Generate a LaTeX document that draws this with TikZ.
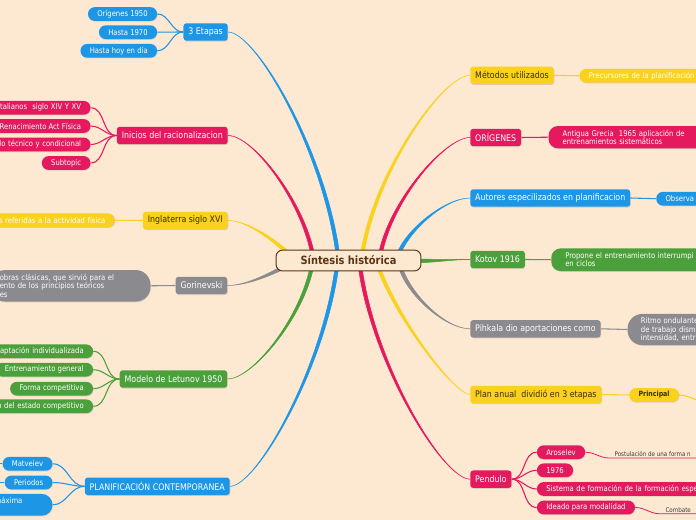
\documentclass[tikz,border=0pt]{standalone}
\usepackage{fontspec}
\setmainfont[FakeStretch=0.87]{DejaVu Sans}
\usetikzlibrary{calc,shadows,backgrounds}

\definecolor{paper}{HTML}{FDE8D1}
\definecolor{mmblue}{HTML}{1E96E6}
\definecolor{mmred}{HTML}{E5195E}
\definecolor{mmyellow}{HTML}{FAD21E}
\definecolor{mmgrey}{HTML}{8B8B8F}
\definecolor{mmgreen}{HTML}{4CA03C}
\definecolor{hubline}{HTML}{5B3513}
\definecolor{ink}{HTML}{3A2C08}
\definecolor{remarkink}{HTML}{3C3C3C}

% tapered main branch: colour, start, end, control out, control in, half width
\newcommand{\taper}[6]{%
  \filldraw[#1, line width=0.4pt] ($#2+#6$) .. controls +#4 and +#5 .. #3
    .. controls +#5 and +#4 .. ($#2-#6$) -- cycle;}

\tikzset{
  hub/.style={draw=hubline, line width=0.75pt, fill=paper, rounded corners=5pt,
    minimum width=108.7pt, minimum height=15.7pt, inner sep=0pt, text=hubline,
    font=\bfseries\fontsize{8.5}{10}\selectfont},
  topic/.style={rounded corners=2.2pt, minimum height=13.1pt, inner xsep=3.7pt,
    inner ysep=0pt, text=white, font=\fontsize{6.8}{8}\selectfont,
    drop shadow={shadow xshift=0.4pt, shadow yshift=-0.7pt, opacity=0.25}},
  leaf/.style={rounded corners=5pt, minimum height=10.3pt, inner xsep=7pt,
    inner ysep=0pt, text=white, font=\fontsize{5.9}{7}\selectfont,
    drop shadow={shadow xshift=0.4pt, shadow yshift=-0.6pt, opacity=0.25}},
  card/.style={leaf, align=left, rounded corners=7pt,
    font=\fontsize{5.9}{6.3}\selectfont},
  twig/.style={line width=0.8pt},
  remark/.style={text=remarkink, inner xsep=4pt, inner ysep=1pt,
    font=\fontsize{4.8}{6}\selectfont},
}

\begin{document}
\begin{tikzpicture}[x=0.75pt,y=-0.75pt]
\useasboundingbox (0,0) rectangle (696,520);
% central topic
\node[hub] (syn) at (348.5,260.5) {Síntesis histórica};

% Left main topics
\node[topic, fill=mmblue, anchor=east] (etapas) at (228,32) {3 Etapas};
\node[topic, fill=mmred, anchor=east] (inicios) at (228,135.5) {Inicios del racionalizacion};
\node[topic, fill=mmyellow, text=ink, anchor=east] (inglaterra) at (228,220.5) {Inglaterra siglo XVI};
\node[topic, fill=mmgrey, anchor=east] (gorin) at (227.5,285.5) {Gorinevski};
\node[topic, fill=mmgreen, anchor=east] (letunov) at (227.5,379) {Modelo de Letunov 1950};
\node[topic, fill=mmblue, anchor=east] (contemp) at (230,486.3) {PLANIFICACIÓN CONTEMPORANEA};

% Right main topics
\node[topic, fill=mmyellow, text=ink, anchor=west] (metodos) at (470,75.3) {Métodos utilizados};
\node[topic, fill=mmred, anchor=west] (origenes) at (470,137.5) {ORÍGENES};
\node[topic, fill=mmblue, anchor=west] (autores) at (470,198) {Autores especilizados en planificacion};
\node[topic, fill=mmgreen, anchor=west] (kotov) at (470,259.5) {Kotov 1916};
\node[topic, fill=mmgrey, anchor=west] (pihkala) at (470,328.8) {Pihkala dio aportaciones como};
\node[topic, fill=mmyellow, text=ink, anchor=west] (plan) at (470,394.5) {Plan anual~ dividió en 3 etapas};
\node[topic, fill=mmred, anchor=west] (pendulo) at (470,479.2) {Pendulo};

% Left subtopics
\node[leaf, fill=mmblue, anchor=east] (e1) at (157.3,14) {Orígenes 1950};
\node[leaf, fill=mmblue, anchor=east] (e2) at (157.3,32.2) {Hasta 1970};
\node[leaf, fill=mmblue, anchor=east] (e3) at (157.3,50.8) {Hasta hoy en día};
\node[leaf, fill=mmred, anchor=east, text width=100pt, align=right] (i1) at (90.7,107.8) {italianos~ siglo XIV Y XV};
\node[leaf, fill=mmred, anchor=east] (i2) at (90.7,126) {Renacimiento Act Física};
\node[leaf, fill=mmred, anchor=east, text width=100pt, align=right] (i3) at (90.7,144.5) {lo técnico y condicional};
\node[leaf, fill=mmred, anchor=east] (i4) at (90.7,163) {Subtopic};
\node[leaf, fill=mmyellow, anchor=east, text width=120pt, align=right] (g1) at (115,220.3) {s referidas a la actividad física};
\node[card, fill=mmgrey, anchor=east, text width=106pt, minimum height=23.6pt, rounded corners=11pt] (gnote) at (150.7,285.8)
  {obras clásicas, que sirvió para el\\ento de los principios teóricos\\es};
\node[leaf, fill=mmgreen, anchor=east, text width=100pt, align=right] (l1) at (93.3,351.3) {aptación individualizada};
\node[leaf, fill=mmgreen, anchor=east] (l2) at (93.3,369.7) {Entrenamiento general};
\node[leaf, fill=mmgreen, anchor=east] (l3) at (93.3,388.7) {Forma competitiva};
\node[leaf, fill=mmgreen, anchor=east, text width=100pt, align=right] (l4) at (93.3,406.3) {n del estado competitivo};
\node[leaf, fill=mmblue, anchor=east] (p1) at (52.7,463.8) {Matveiev};
\node[leaf, fill=mmblue, anchor=east] (p2) at (52.7,482.5) {Periodos};
\node[card, fill=mmblue, anchor=east, text width=36.3pt, minimum height=16.3pt, rounded corners=8pt] (p3) at (52.7,504.8) {máxima\\\mbox{}};

% Right subtopics
\node[leaf, fill=mmyellow, anchor=west, text width=120pt, align=left] (m1) at (579.3,75.8) {Precursores de la planificación};
\node[card, fill=mmred, anchor=west, inner xsep=10.5pt, text width=150pt, minimum height=16.7pt] (onote) at (548.3,137.2)
  {Antigua Grecia~ 1965 aplicación de\\entrenamientos sistemáticos};
\node[leaf, fill=mmblue, anchor=west, text width=40pt, align=left] (a1) at (656,198.7) {Observa};
\node[card, fill=mmgreen, anchor=west, inner xsep=10.5pt, text width=150pt, minimum height=17pt] (knote) at (551,259.7)
  {Propone el entrenamiento interrumpi\\en ciclos};
\node[card, fill=mmgrey, anchor=west, inner xsep=10pt, text width=60pt, minimum height=23.3pt, rounded corners=11pt] (hnote) at (627.3,329.5)
  {Ritmo ondulante\\de trabajo dism\\intensidad, entr};
\node[leaf, fill=mmyellow, text=ink, anchor=west, font=\bfseries\fontsize{5.4}{7}\selectfont] (pl1) at (629,395) {Principal};
\node[leaf, fill=mmred, anchor=west] (d1) at (536.7,452.2) {Aroselev};
\node[leaf, fill=mmred, anchor=west] (d2) at (536.7,470.3) {1976};
\node[leaf, fill=mmred, anchor=west, text width=150pt, align=left] (d3) at (536.7,489) {Sistema de formación de la formación espe};
\node[leaf, fill=mmred, anchor=west] (d4) at (536.7,507.5) {Ideado para modalidad};
\node[remark, anchor=south west] (d1t) at (609,458) {Postulación de una forma n};
\node[remark, anchor=south west] (d4t) at (660,513.8) {Combate};

% free ends beyond the page
\coordinate (p1x) at (-20,463.8);
\coordinate (p2x) at (-20,482.5);
\coordinate (plx) at (715,410);
\coordinate (d1v) at (705,458);
\coordinate (d4v) at (705,513.8);

\begin{scope}[on background layer]
\fill[paper] (0,0) rectangle (696,520);
% Main branches out of the central topic
\taper{mmblue}{(syn.center)+(-10.5,-4.5)}{(etapas.east)}{(-13,-104)}{(28,0)}{(1.8,0)}
\taper{mmred}{(syn.center)+(-35.5,-4.5)}{(inicios.east)}{(-10,-55)}{(25,0)}{(1.8,0)}
\taper{mmyellow}{(syn.center)+(-56.5,-3.5)}{(inglaterra.east)}{(-15,-15)}{(20,0)}{(1.3,-1.3)}
\taper{mmgrey}{(syn.center)+(-60.5,4.5)}{(gorin.east)}{(-15,8)}{(20,0)}{(0.6,1.7)}
\taper{mmgreen}{(syn.center)+(-36.5,5.5)}{(letunov.east)}{(-10,52)}{(25,0)}{(1.8,0)}
\taper{mmblue}{(syn.center)+(-11.5,5.5)}{(contemp.east)}{(-13,101)}{(27,0)}{(1.8,0)}
\taper{mmyellow}{(syn.center)+(13.5,-4.5)}{(metodos.west)}{(12,-83)}{(-27,0)}{(1.8,0)}
\taper{mmred}{(syn.center)+(31.5,-4.5)}{(origenes.west)}{(10,-55)}{(-25,0)}{(1.8,0)}
\taper{mmblue}{(syn.center)+(49.5,-4.5)}{(autores.west)}{(8,-25)}{(-25,0)}{(1.6,0.8)}
\taper{mmgreen}{(syn.center)+(66.5,0.5)}{(kotov.west)}{(18,0)}{(-18,0)}{(0,1.8)}
\taper{mmgrey}{(syn.center)+(51.5,5.5)}{(pihkala.west)}{(8,28)}{(-25,0)}{(1.6,-0.8)}
\taper{mmyellow}{(syn.center)+(29.5,5.5)}{(plan.west)}{(20,55)}{(-15,0)}{(1.8,0)}
\taper{mmred}{(syn.center)+(11.5,5.5)}{(pendulo.west)}{(13,98)}{(-27,0)}{(1.8,0)}
% Left twigs
\foreach \n in {e1,e2,e3}
  \draw[twig, mmblue] (etapas.west) to[out=180,in=0] (\n.east);
\foreach \n in {i1,i2,i3,i4}
  \draw[twig, mmred] (inicios.west) to[out=180,in=0] (\n.east);
\draw[twig, mmyellow] (inglaterra.west) -- (g1.east);
\draw[twig, mmgrey] (gorin.west) -- (gnote.east);
\foreach \n in {l1,l2,l3,l4}
  \draw[twig, mmgreen] (letunov.west) to[out=180,in=0] (\n.east);
\foreach \n in {p1,p2,p3}
  \draw[twig, mmblue] (contemp.west) to[out=180,in=0] (\n.east);
\draw[twig, mmblue] (p1.west) -- (p1x);
\draw[twig, mmblue] (p2.west) -- (p2x);
% Right twigs
\draw[twig, mmyellow] (metodos.east) -- (m1.west);
\draw[twig, mmred] (origenes.east) -- (onote.west);
\draw[twig, mmblue] (autores.east) -- (a1.west);
\draw[twig, mmgreen] (kotov.east) -- (knote.west);
\draw[twig, mmgrey] (pihkala.east) -- (hnote.west);
\draw[twig, mmyellow] (plan.east) -- (pl1.west);
\draw[twig, mmyellow] (pl1.east) .. controls +(10,0) and +(-10,-6) .. (plx);
\foreach \n in {d1,d2,d3,d4}
  \draw[twig, mmred] (pendulo.east) to[out=0,in=180] (\n.west);
\draw[twig, mmred, line width=0.6pt] (d1.east) to[out=0,in=180] (d1t.south west) -- (d1v);
\draw[twig, mmred, line width=0.6pt] (d4.east) to[out=0,in=180] (d4t.south west) -- (d4v);
\end{scope}
\end{tikzpicture}
\end{document}
